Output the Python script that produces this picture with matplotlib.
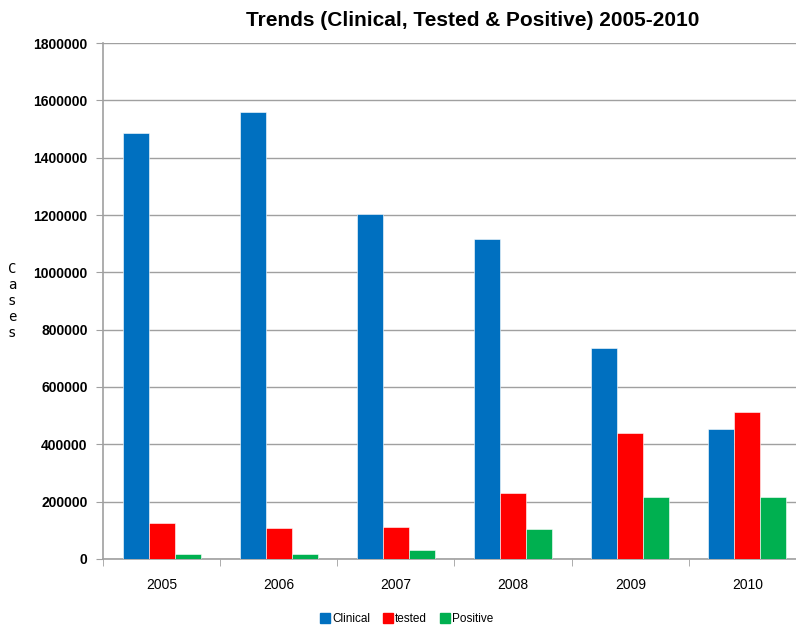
import matplotlib
matplotlib.use("Agg")
import matplotlib.pyplot as plt
import numpy as np
from matplotlib.lines import Line2D

years = ["2005", "2006", "2007", "2008", "2009", "2010"]
clinical = [1485000, 1558000, 1205000, 1115000, 736000, 453000]
tested = [124000, 107000, 112000, 229000, 440000, 513000]
positive = [16000, 17500, 31000, 105000, 216000, 216000]
series_names = ["Clinical", "tested", "Positive"]
colors = ["#0070C0", "#FF0000", "#00B050"]

plt.rcParams['font.family'] = ['Liberation Sans', 'DejaVu Sans']

fig = plt.figure(figsize=(7.96, 6.26), dpi=100)
ax = fig.add_axes([103/796, 1-559/626, 703/796, 516/626])

x = np.arange(len(years))
w = 0.222
for i, (vals, c) in enumerate(zip([clinical, tested, positive], colors)):
    ax.bar(x + (i-1)*w, vals, width=w, color=c, edgecolor='white', linewidth=0.4, zorder=3)

ax.set_xlim(-0.5, len(years)-0.5)
ax.set_ylim(0, 1800000)
ax.set_yticks(np.arange(0, 1800001, 200000))
ax.set_yticklabels([str(v) for v in range(0, 1800001, 200000)], fontweight='bold', fontsize=10)
ax.set_xticks(x)
ax.set_xticklabels(years, fontsize=10)
ax.set_xticks(np.arange(-0.5, len(years)), minor=True)
ax.tick_params(axis='x', which='major', length=0, pad=14)
ax.tick_params(axis='x', which='minor', length=5, color='#A0A0A0', direction='out')
ax.tick_params(axis='y', length=5, color='#A0A0A0', direction='out', pad=6)

ax.grid(axis='y', color='#A0A0A0', linewidth=1, zorder=0)
for s in ['top', 'right']:
    ax.spines[s].set_visible(False)
for s in ['left', 'bottom']:
    ax.spines[s].set_color('#A0A0A0')
    ax.spines[s].set_linewidth(1.2)

fig.text(473/796, 1-20/626, "Trends (Clinical, Tested & Positive) 2005-2010", ha='center', va='center',
         fontsize=15, fontweight='bold')
fig.text(12/796, 1-301/626, "C\na\ns\ne\ns", ha='center', va='center', fontsize=10,
         family='DejaVu Sans Mono', linespacing=1.2)

handles = [Line2D([0], [0], marker='s', color='none', markerfacecolor=c, markeredgecolor=c,
                  markersize=7) for c in colors]
fig.legend(handles, series_names, loc='center', bbox_to_anchor=(406/796, 1-619/626), ncol=3,
           frameon=False, fontsize=8.5, handletextpad=0.1, columnspacing=1.0, handlelength=1.0)

fig.savefig("out.png", dpi=100)
